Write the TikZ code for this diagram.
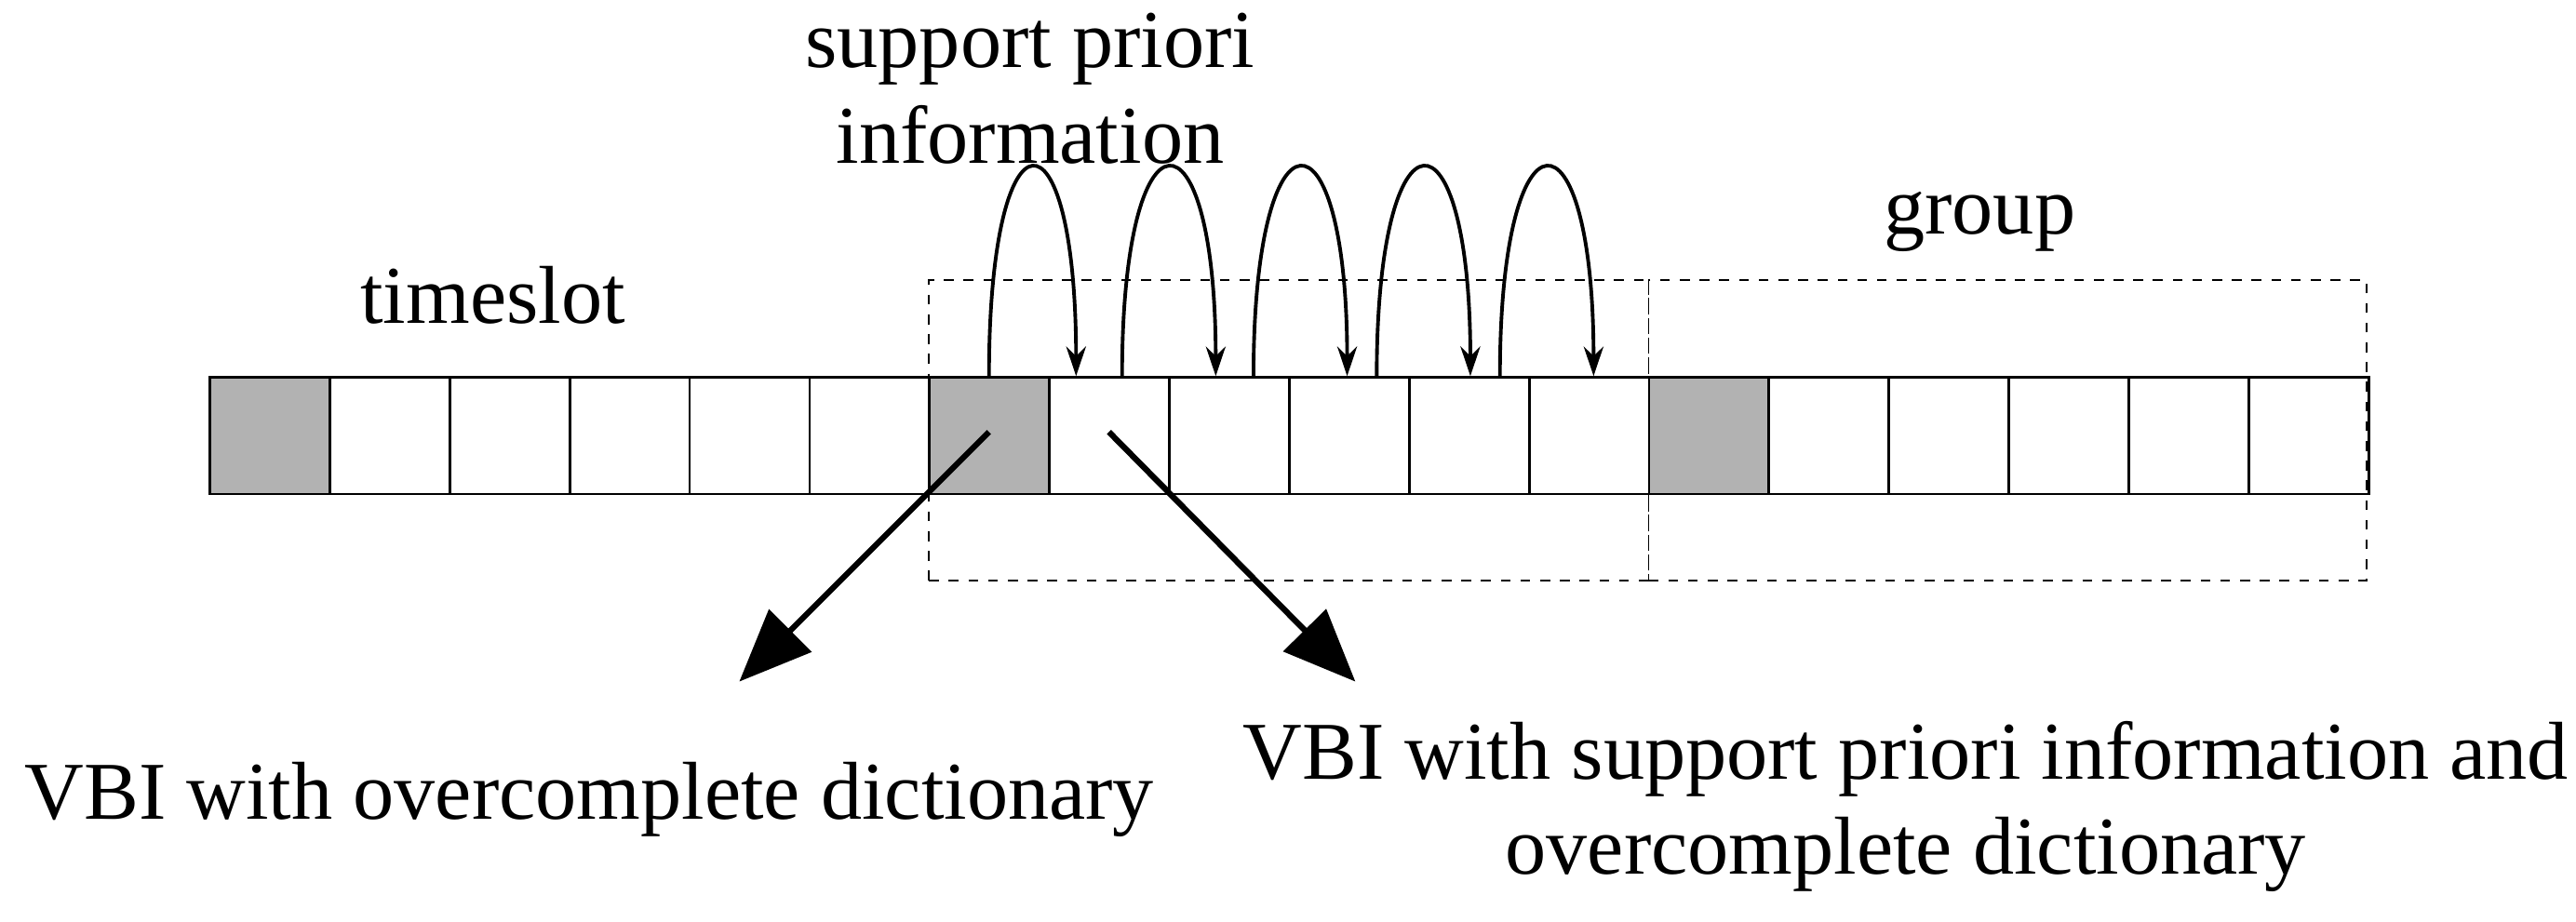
\documentclass[tikz,border=0pt]{standalone}
\usepackage{fontspec}
\setmainfont{Liberation Serif}
\usetikzlibrary{arrows.meta}
\begin{document}
\begin{tikzpicture}[x=0.5pt,y=-0.5pt,
  cell/.style={draw,line width=0.8pt,minimum width=36.5pt,minimum height=35.5pt,inner sep=0pt,anchor=north west},
  shaded/.style={cell,fill=black!30},
  grp/.style={draw,dashed,line width=0.5pt},
  loop/.style={line width=1.1pt,-{Stealth[length=9pt,width=6pt]}},
  big/.style={line width=1.8pt,-{Triangle[length=22pt,width=18pt]}},
  lbl/.style={font=\fontsize{25}{29}\selectfont,align=center}]
\useasboundingbox (0,0) rectangle (1568,561);
\foreach \i in {0,...,17}{
  \pgfmathtruncatemacro{\s}{(\i==0 || \i==6 || \i==12) ? 1 : 0}
  \ifnum\s=1
    \node[shaded] (c\i) at ({127+73*\i},229) {};
  \else
    \node[cell] (c\i) at ({127+73*\i},229) {};
  \fi
}
\node[grp,minimum width=219pt,minimum height=91.5pt,inner sep=0pt,anchor=north west] (g1) at (565,170) {};
\node[grp,minimum width=218.5pt,minimum height=91.5pt,inner sep=0pt,anchor=north west] (g2) at (1003,170) {};
\foreach \a/\b in {602/655,683/740,763/820,838/895,913/970}{
  \coordinate (s) at (\a,229); \coordinate (e) at (\b,229);
  \draw[loop] (s) .. controls (\a,60) and (\b,60) .. (e);
}
\coordinate (p1) at (602,263); \coordinate (q1) at (450,415);
\coordinate (p2) at (675,263); \coordinate (q2) at (825,415);
\draw[big] (p1) -- (q1);
\draw[big] (p2) -- (q2);
\node[lbl] (t1) at (627,54) {support priori\\information};
\node[lbl] (t2) at (300,180) {timeslot};
\node[lbl] (t3) at (1205,135) {group};
\node[lbl,anchor=west] (t4) at (8,487) {VBI with overcomplete dictionary};
\node[lbl] (t5) at (1160,491) {VBI with support priori information and\\overcomplete dictionary};
\end{tikzpicture}
\end{document}
